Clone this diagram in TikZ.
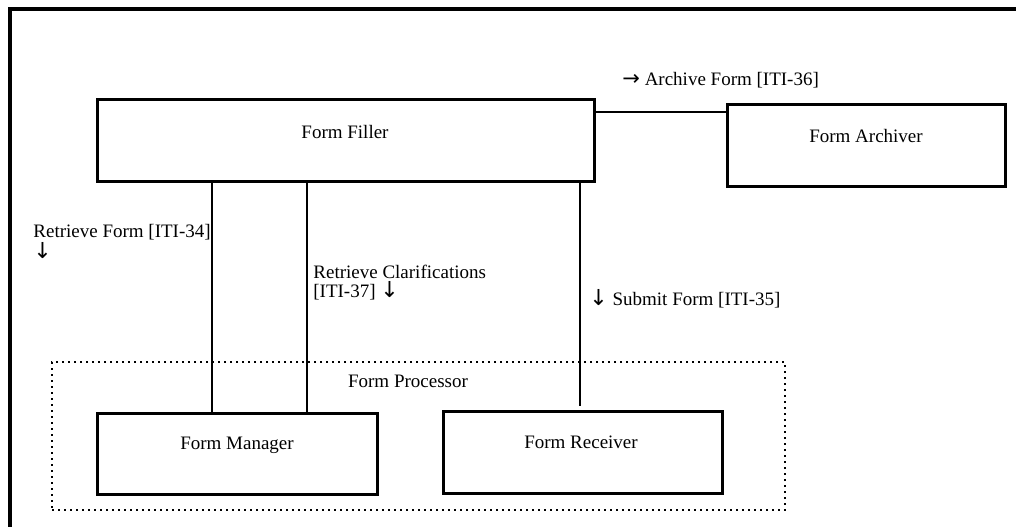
\documentclass[tikz,border=0pt]{standalone}
\usepackage{fontspec}
\setmainfont{Liberation Serif}
\newfontfamily\arrowfont{DejaVu Sans}
\newcommand{\darr}{{\arrowfont\fontsize{11}{8.5}\selectfont ↓}}
\newcommand{\rarr}{{\arrowfont\fontsize{10.5}{8.5}\selectfont →}}
\begin{document}
\begin{tikzpicture}[x=0.5pt,y=-0.5pt,
  every node/.style={font=\fontsize{9.5}{10.5}\selectfont},
  box/.style={draw, line width=1.5pt, inner sep=0pt, anchor=north west},
  procbox/.style={draw, line width=1pt, dotted, inner sep=0pt, anchor=north west},
  lbl/.style={inner sep=0pt, anchor=base west, align=left},
  ttl/.style={inner sep=0pt, anchor=base},
  conn/.style={line width=1.3pt},
  frame/.style={line width=2.3pt}]
\useasboundingbox (0,0) rectangle (1016,526);
% outer frame (only top and left visible)
\coordinate (ftl) at (10,9);
\coordinate (ftr) at (1020,9);
\coordinate (fbl) at (10,530);
\draw[frame] (ftr) -- (ftl) -- (fbl);
% boxes
\node[box, minimum width=248.5pt, minimum height=41pt] (filler) at (96,98) {};
\node[ttl] (fillert) at (345,138) {Form Filler};
\node[box, minimum width=139pt, minimum height=41pt] (archiver) at (726,103) {};
\node[ttl] (archivert) at (866,142) {Form Archiver};
\node[procbox, minimum width=366.5pt, minimum height=74pt] (proc) at (51,361) {};
\node[ttl] (proct) at (408,387) {Form Processor};
\node[box, minimum width=140pt, minimum height=40.5pt] (manager) at (96,412) {};
\node[ttl] (managert) at (237,449) {Form Manager};
\node[box, minimum width=139.5pt, minimum height=41pt] (receiver) at (442,410) {};
\node[ttl] (receivert) at (581,448) {Form Receiver};
% connectors
\draw[conn] (filler.east |- 0,112) -- (archiver.west |- 0,112);
\draw[conn] (filler.south -| 212,0) -- (manager.north -| 212,0);
\draw[conn] (filler.south -| 307,0) -- (manager.north -| 307,0);
\coordinate (rcvend) at (580,406);
\draw[conn] (filler.south -| rcvend) -- (rcvend);
% labels
\node[lbl] (l36) at (622,85) {\rarr\ Archive Form [ITI-36]};
\node[lbl, font=\fontsize{9.5}{10.5}\selectfont] (l34) at (33,258) {Retrieve Form [ITI-34]\\\darr};
\node[lbl, font=\fontsize{9.5}{9.5}\selectfont] (l37) at (313,297) {Retrieve Clarifications\\{[ITI-37]} \darr};
\node[lbl] (l35) at (589,305) {\darr\ Submit Form [ITI-35]};
\end{tikzpicture}
\end{document}
